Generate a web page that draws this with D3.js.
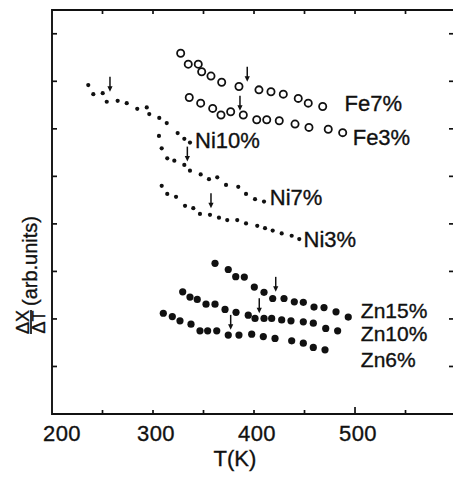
<!DOCTYPE html>
<html>
<head>
<meta charset="utf-8">
<script src="https://cdn.jsdelivr.net/npm/d3@7"></script>
<style>
  html, body { margin: 0; padding: 0; background: #fff; }
  svg { display: block; }
  text { font-family: "Liberation Sans", Arial, sans-serif; fill: #111; stroke: #111; stroke-width: 0.35; }
</style>
</head>
<body>
<svg id="chart" width="453" height="478"></svg>
<script>
// Temperature derivative of susceptibility, ΔX/ΔT (arb. units), vs T (K)
// Each series: [T (K), ΔX/ΔT (arb. units)]
const fe7 = [[327.4,7.59],[334.9,7.36],[344.8,7.36],[348.2,7.20],[357.4,7.11],[368.0,6.98],[385.1,6.89],[404.9,6.82],[416.8,6.78],[429.0,6.73],[443.8,6.64],[453.7,6.54],[468.0,6.47]];
const fe3 = [[335.9,6.66],[347.2,6.54],[359.1,6.43],[367.3,6.29],[376.9,6.36],[389.4,6.29],[402.7,6.19],[412.6,6.19],[425.0,6.17],[440.6,6.10],[454.4,6.03],[473.5,5.99],[487.8,5.92]];
const ni10 = [[235.9,6.92],[240.9,6.73],[250.2,6.75],[254.2,6.57],[265.0,6.59],[274.0,6.54],[284.4,6.42],[293.8,6.45],[296.3,6.31],[306.2,6.23],[313.6,6.12],[324.4,5.91],[331.0,5.79],[336.6,5.71]];
const ni7 = [[305.9,5.85],[308.6,5.59],[314.1,5.38],[321.1,5.33],[331.0,5.24],[336.6,5.12],[347.2,5.04],[355.4,4.94],[363.6,4.98],[372.3,4.82],[384.4,4.78],[392.1,4.63],[401.0,4.52],[409.9,4.47]];
const ni3 = [[308.6,4.80],[314.1,4.63],[322.8,4.57],[331.7,4.38],[339.9,4.33],[346.5,4.21],[356.4,4.19],[365.3,4.13],[373.5,4.08],[383.4,4.08],[392.1,4.01],[403.2,3.96],[410.9,3.91],[418.5,3.86],[427.4,3.80],[437.3,3.75],[444.8,3.68]];
const zn15 = [[361.4,3.17],[374.5,3.04],[381.9,2.89],[390.4,2.88],[400.3,2.67],[409.9,2.56],[418.5,2.43],[429.7,2.43],[439.9,2.36],[448.8,2.35],[459.4,2.25],[469.3,2.24],[481.2,2.15],[493.3,2.04]];
const zn10 = [[329.4,2.57],[336.6,2.46],[343.8,2.41],[352.5,2.31],[361.4,2.31],[371.3,2.20],[382.2,2.14],[394.3,2.08],[401.0,2.01],[409.9,2.01],[417.5,2.01],[427.4,1.98],[436.6,1.96],[448.8,1.94],[458.7,1.91],[471.0,1.80],[482.8,1.75]];
const zn6 = [[310.2,2.12],[319.1,2.05],[326.7,1.96],[337.6,1.89],[346.5,1.75],[354.1,1.75],[363.1,1.75],[374.5,1.66],[385.1,1.66],[397.7,1.68],[409.2,1.63],[420.8,1.59],[437.3,1.54],[448.8,1.49],[458.7,1.40],[470.3,1.35]];

// Transition markers (arrow tip at [T, value])
const arrows = [[393.3,6.99],[386.1,6.38],[257.4,6.78],[334.0,5.31],[357.4,4.33],[421.5,2.57],[405.2,2.12],[376.9,1.77]];

// Series labels: text, T at label start, value at baseline
const labelNames = ["Fe7%","Fe3%","Ni10%","Ni7%","Ni3%","Zn15%","Zn10%","Zn6%"];
const labelT = [489.7, 497.7, 341.6, 415.6, 449.1, 505.8, 505.8, 505.8];
const labelV = [6.37, 5.66, 5.60, 4.40, 3.51, 2.03, 1.53, 0.99];
const labelSize = [22, 22, 22, 22, 22, 21, 21, 21];

const xTicks = [250, 300, 350, 400, 450, 500, 550];
const xLabels = [200, 300, 400, 500];
const yTicks = [1, 2, 3, 4, 5, 6, 7, 8];

const svg = d3.select("#chart");
const mLeft = 52, mRight = 454, mTop = 10, mBottom = 414;

const x = d3.scaleLinear().domain([200, 598]).range([mLeft, mRight]);
const y = d3.scaleLinear().domain([0, 8.5]).range([mBottom, mTop]);

// Frame
const frame = svg.append("g").attr("stroke", "#111").attr("stroke-width", 1.9).attr("fill", "none");
frame.append("path").attr("d", `M${mRight},${mTop}H${mLeft}V${mBottom}H${mRight}`);

// Ticks on all four sides, pointing inward
const tickG = svg.append("g").attr("stroke", "#111").attr("stroke-width", 1.7);
xTicks.forEach(t => {
  const len = t === 500 ? 7 : 4;
  tickG.append("line").attr("x1", x(t)).attr("x2", x(t)).attr("y1", mBottom).attr("y2", mBottom - len);
  tickG.append("line").attr("x1", x(t)).attr("x2", x(t)).attr("y1", mTop).attr("y2", mTop + 4);
});
yTicks.forEach(v => {
  tickG.append("line").attr("x1", mLeft).attr("x2", mLeft + 5).attr("y1", y(v)).attr("y2", y(v));
  tickG.append("line").attr("x1", mRight).attr("x2", mRight - 5).attr("y1", y(v)).attr("y2", y(v));
});

// X tick labels
svg.append("g").selectAll("text").data(xLabels).join("text")
  .attr("x", d => x(d) + (d === 200 ? 10 : 3))
  .attr("y", mBottom + 27)
  .attr("text-anchor", "middle")
  .attr("font-size", 22)
  .attr("letter-spacing", 0.5)
  .text(d => d);

svg.append("text")
  .attr("x", 235).attr("y", 466)
  .attr("text-anchor", "middle")
  .attr("font-size", 22)
  .text("T(K)");

// Y axis label: ΔX over ΔT, then (arb.units)
const yl = svg.append("g").attr("transform", "translate(31,322) rotate(-90)");
yl.append("text").attr("x", 0).attr("y", -2).attr("text-anchor", "middle").attr("font-size", 18).text("ΔX");
yl.append("line").attr("x1", -12).attr("x2", 12).attr("y1", 0).attr("y2", 0).attr("stroke", "#111").attr("stroke-width", 1.7);
yl.append("text").attr("x", 0).attr("y", 14).attr("text-anchor", "middle").attr("font-size", 18).text("ΔT");
yl.append("text").attr("x", 16).attr("y", 6).attr("font-size", 20).text("(arb.units)");

// Open circles (Fe)
const open = svg.append("g").attr("fill", "none").attr("stroke", "#111").attr("stroke-width", 1.8);
[fe7, fe3].forEach(s => {
  open.selectAll(null).data(s).join("circle")
    .attr("cx", d => x(d[0])).attr("cy", d => y(d[1])).attr("r", 3.6);
});

// Small filled dots (Ni)
const small = svg.append("g").attr("fill", "#111");
[ni10, ni7, ni3].forEach(s => {
  small.selectAll(null).data(s).join("circle")
    .attr("cx", d => x(d[0])).attr("cy", d => y(d[1])).attr("r", 2.1);
});

// Large filled dots (Zn)
const big = svg.append("g").attr("fill", "#111");
[zn15, zn10, zn6].forEach(s => {
  big.selectAll(null).data(s).join("circle")
    .attr("cx", d => x(d[0])).attr("cy", d => y(d[1])).attr("r", 3.6);
});

// Downward arrows
const arr = svg.append("g");
arrows.forEach(a => {
  const ax = x(a[0]), ay = y(a[1]);
  arr.append("line").attr("x1", ax).attr("x2", ax).attr("y1", ay - 15).attr("y2", ay - 3)
    .attr("stroke", "#111").attr("stroke-width", 1.5);
  arr.append("path").attr("d", `M${ax - 2.6},${ay - 5.5}L${ax + 2.6},${ay - 5.5}L${ax},${ay}Z`).attr("fill", "#111");
});

// Series labels
svg.append("g").selectAll("text").data(labelNames).join("text")
  .attr("x", (d, i) => x(labelT[i]))
  .attr("y", (d, i) => y(labelV[i]))
  .attr("font-size", (d, i) => labelSize[i])
  .text(d => d);
</script>
</body>
</html>
